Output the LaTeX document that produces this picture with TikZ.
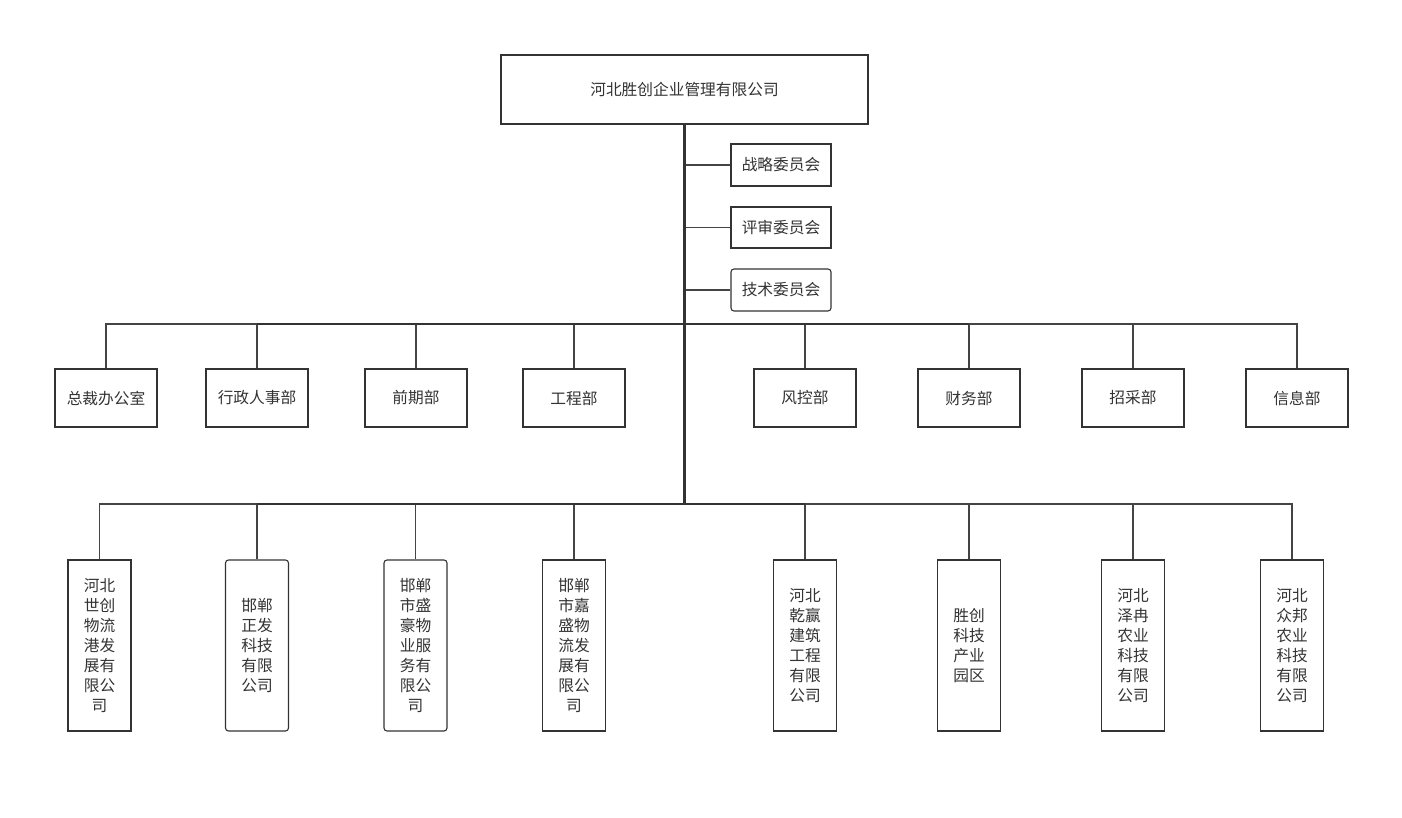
\documentclass[tikz,border=0pt]{standalone}
\usepackage{fontspec}
\setmainfont{Noto Sans CJK SC}
\definecolor{ink}{HTML}{333333}
\definecolor{lnk}{HTML}{444444}
\begin{document}
\begin{tikzpicture}[x=1pt,y=-1pt,
  box/.style={draw=ink, line width=1.1pt, fill=white, text=ink, inner sep=0pt,
    font=\fontsize{15.7}{20}\selectfont, align=center},
  topbox/.style={box, minimum width=367pt, minimum height=69pt},
  combox/.style={box, minimum width=100pt, minimum height=42pt},
  deptbox/.style={box, minimum width=102pt, minimum height=58pt},
  subbox/.style={box, minimum width=63pt, minimum height=171pt},
  thinl/.style={draw=lnk, line width=1.2pt},
  thickl/.style={draw=ink, line width=2.6pt}]
\useasboundingbox (0,0) rectangle (1402,818);
\fill[white] (0,0) rectangle (1402,818);

\node[topbox] (top) at (684.5,89.5) {河北胜创企业管理有限公司};

\node[combox] (c1) at (781,165) {战略委员会};
\node[combox, minimum height=41pt] (c2) at (781,227.5) {评审委员会};
\node[combox, rounded corners=3pt] (c3) at (781,290) {技术委员会};

\foreach \n/\x/\t in {d1/106/总裁办公室, d2/257/行政人事部, d3/416/前期部, d4/574/工程部,
                      d5/805/风控部, d6/969/财务部, d7/1133/招采部, d8/1297/信息部}
  \node[deptbox] (\n) at (\x,398) {\t};

\node[subbox] (s1) at (99.5,645.5) {河北\\世创\\物流\\港发\\展有\\限公\\司};
\node[subbox, rounded corners=3pt] (s2) at (257,645.5) {邯郸\\正发\\科技\\有限\\公司};
\node[subbox, rounded corners=3pt] (s3) at (415.5,645.5) {邯郸\\市盛\\豪物\\业服\\务有\\限公\\司};
\node[subbox] (s4) at (574,645.5) {邯郸\\市嘉\\盛物\\流发\\展有\\限公\\司};
\node[subbox] (s5) at (805,645.5) {河北\\乾赢\\建筑\\工程\\有限\\公司};
\node[subbox] (s6) at (969,645.5) {胜创\\科技\\产业\\园区};
\node[subbox] (s7) at (1133,645.5) {河北\\泽冉\\农业\\科技\\有限\\公司};
\node[subbox] (s8) at (1292,645.5) {河北\\众邦\\农业\\科技\\有限\\公司};

\coordinate (b1) at (685,324);
\coordinate (b2) at (685,504);

% committee branches
\foreach \c in {c1,c2,c3}
  \draw[thinl] (\c.west) -- (\c.west -| b1);

% department bus
\foreach \d in {d1,d2,d3,d4,d5,d6,d7,d8}
  \draw[thinl] (\d.north) |- (b1);
\draw[thickl] (d2.north |- b1) -- (d6.north |- b1);

% subsidiary bus
\foreach \s in {s1,s2,s3,s4,s5,s6,s7,s8}
  \draw[thinl] (\s.north) |- (b2);
\draw[thickl] (s2.north |- b2) -- (s5.north |- b2);

% spine
\draw[thickl] (top.south) -- (top.south |- b2);
\end{tikzpicture}
\end{document}
